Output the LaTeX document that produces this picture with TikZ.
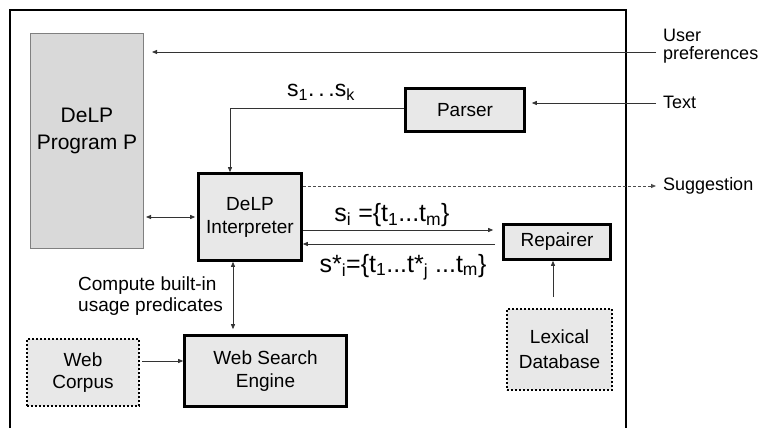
\documentclass[tikz,border=0pt]{standalone}
\usepackage{fontspec}
\setmainfont{Liberation Sans}
\usetikzlibrary{arrows.meta}
\begin{document}
\begin{tikzpicture}[x=1pt,y=-1pt,
  boxfont/.style={font=\fontsize{19}{23}\selectfont},
  thickbox/.style={draw=black, line width=2.6pt, fill=black!9, inner sep=0pt, align=center, boxfont},
  dotbox/.style={draw=black, line width=2pt, dash pattern=on 2pt off 2pt, fill=black!9, inner sep=0pt, align=center, boxfont},
  progbox/.style={draw=black!50, line width=1pt, fill=black!15, inner sep=0pt},
  lbl/.style={inner sep=0pt, font=\fontsize{18}{18}\selectfont, align=left},
  mlbl/.style={inner sep=0pt, font=\fontsize{25}{28}\selectfont},
  arr/.style={draw=black!80, line width=0.8pt, -{Triangle[length=5pt,width=4pt]}},
  darr/.style={draw=black!80, line width=0.8pt, {Triangle[length=5pt,width=4pt]}-{Triangle[length=5pt,width=4pt]}},
  dasharr/.style={draw=black!70, line width=0.8pt, dash pattern=on 3pt off 2pt, -{Triangle[length=5pt,width=4pt]}}
]
\useasboundingbox (0,0) rectangle (765,428);

% outer frame (open at the bottom)
\draw[line width=2pt] (10,428) -- (10,10) -- (626,10) -- (626,428);

% nodes
\node[progbox, minimum width=113pt, minimum height=215pt] (prog) at (87,141) {};
\node[inner sep=0pt, align=center, font=\fontsize{21}{27}\selectfont] (progtxt) at (87,131) {DeLP\\Program P};
\node[thickbox, minimum width=119pt, minimum height=43pt] (parser) at (465,110) {Parser};
\node[thickbox, minimum width=103pt, minimum height=87pt] (interp) at (250,217) {DeLP\\Interpreter};
\node[thickbox, minimum width=107pt, minimum height=35pt] (repair) at (557,242) {Repairer};
\node[dotbox, minimum width=105pt, minimum height=81pt, font=\fontsize{19}{25}\selectfont] (lex) at (559.5,349.5) {Lexical\\Database};
\node[thickbox, minimum width=162pt, minimum height=71pt] (wse) at (265.5,371) {Web Search\\Engine};
\node[dotbox, minimum width=112pt, minimum height=67pt, font=\fontsize{19}{22}\selectfont] (corpus) at (83,372.5) {Web\\Corpus};

% external labels
\node[lbl, anchor=west] (user) at (663,46) {User\\preferences};
\node[lbl, anchor=west] (text) at (663,102) {Text};
\node[lbl, anchor=west] (sugg) at (663,186) {Suggestion};
\node[inner sep=0pt, anchor=west, align=left, font=\fontsize{19}{21}\selectfont] (compute) at (78,296.5) {Compute built-in\\usage predicates};

% math-like labels
\node[mlbl, font=\fontsize{23}{26}\selectfont] (sk) at (321,92) {s\textsubscript{1}.\,.\,.s\textsubscript{k}};
\node[mlbl] (si) at (392,215) {s\textsubscript{i} =\{t\textsubscript{1}...t\textsubscript{m}\}};
\node[mlbl] (sstar) at (403,267) {s*\textsubscript{i}=\{t\textsubscript{1}...t*\textsubscript{j} ...t\textsubscript{m}\}};

% coordinates for free ends / routing
\coordinate (upin) at (656,52);
\coordinate (txin) at (656,103);
\coordinate (sgout) at (656,186);
\coordinate (kbend) at (230,108);
\coordinate (vx) at (233,0);
\coordinate (hy) at (0,361);

% connectors
\draw[arr, shorten >=8pt] (upin) -- (prog.east |- upin);
\draw[arr, shorten >=6pt] (txin) -- (parser.east |- txin);
\draw[arr] (parser.west |- kbend) -- (kbend) -- (kbend |- interp.north);
\draw[dasharr] (interp.east |- sgout) -- (sgout);
\draw[darr, shorten <=2pt, shorten >=2pt] (prog.east |- interp.west) -- (interp.west);
\draw[arr, shorten >=9pt] ([yshift=-13pt]interp.east) -- ([yshift=-13pt]interp.east -| repair.west);
\draw[arr, shorten <=7pt] ([yshift=-27pt]interp.east -| repair.west) -- ([yshift=-27pt]interp.east);
\draw[arr, shorten <=11pt] (lex.north -| 553,0) -- (repair.south -| 553,0);
\draw[darr, shorten >=5pt] (interp.south -| vx) -- (wse.north -| vx);
\draw[arr, shorten <=2pt] (corpus.east |- hy) -- (wse.west |- hy);
\end{tikzpicture}
\end{document}
